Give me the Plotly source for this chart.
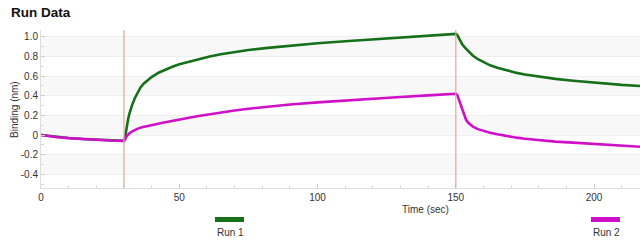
import plotly.graph_objects as go

# ---- data ----
time_run1 = [0, 3, 6, 10, 15, 20, 25, 30,
             30.3, 30.7, 31, 31.5, 32, 32.5, 33, 34, 35, 36, 37, 38.5, 40, 42.5, 45, 47.5, 50, 54, 57, 61, 65, 70, 75, 82,
             90, 100, 110, 120, 130, 140, 150,
             150.5, 151, 151.5, 152.3, 153.3, 154.5, 156.2, 158, 160, 162.4, 165, 168.5, 172, 175, 180.5, 186, 192.4,
             198, 204.7, 210, 216.6]
binding_run1 = [0.0, -0.01, -0.02, -0.03, -0.04, -0.048, -0.055, -0.06,
                -0.04, 0.04, 0.1, 0.16, 0.22, 0.27, 0.31, 0.38, 0.44, 0.485, 0.52, 0.56, 0.59, 0.635, 0.668, 0.695, 0.72, 0.752, 0.775, 0.8, 0.822, 0.846, 0.866, 0.888,
                0.91, 0.935, 0.955, 0.975, 0.993, 1.01, 1.03,
                1.02, 0.99, 0.96, 0.925, 0.89, 0.852, 0.808, 0.772, 0.74, 0.71, 0.685, 0.656, 0.633, 0.617, 0.592, 0.572, 0.553,
                0.538, 0.523, 0.511, 0.50]
time_run2 = [0, 3, 6, 10, 15, 20, 25, 30,
             30.3, 30.7, 31, 31.5, 32, 33, 34, 35, 36.5, 38, 40, 42, 44, 46, 50, 54, 57, 61, 65, 70, 75, 82,
             90, 100, 110, 120, 130, 140, 150,
             150.5, 151, 151.5, 152, 152.6, 153.2, 153.7, 154.5, 155.3, 156.2, 158, 160, 162.4, 165, 168.5, 172, 175,
             180.5, 186, 192.4, 198, 204.7, 210, 216.6]
binding_run2 = [0.0, -0.012, -0.022, -0.032, -0.042, -0.05, -0.056, -0.06,
                -0.05, -0.03, -0.012, 0.004, 0.018, 0.038, 0.053, 0.065, 0.078, 0.089, 0.101, 0.113, 0.125, 0.137, 0.158, 0.178, 0.193, 0.212, 0.23, 0.25, 0.268, 0.29,
                0.31, 0.332, 0.352, 0.37, 0.387, 0.404, 0.42,
                0.41, 0.37, 0.32, 0.28, 0.24, 0.19, 0.155, 0.125, 0.104, 0.086, 0.06, 0.04, 0.022, 0.007, -0.012, -0.027, -0.038,
                -0.055, -0.067, -0.078, -0.088, -0.099, -0.108, -0.12]
run_names = ["Run 1", "Run 2"]
run_colors = ["#16701a", "#d010c8"]
step_times = [30, 150]
x_tickvals = [0, 50, 100, 150, 200]
y_tickvals = [1.0, 0.8, 0.6, 0.4, 0.2, 0, -0.2, -0.4]
y_ticktext = ["1.0", "0.8", "0.6", "0.4", "0.2", "0", "-0.2", "-0.4"]
band_ranges = [(0.8, 1.0), (0.4, 0.6), (0.0, 0.2), (-0.4, -0.2)]

W, H = 640, 248
L, R, T, B = 41, 0, 30, 60
pw, ph = W - L - R, H - T - B


def px(xp):
    return (xp - L) / pw


def py(yp):
    return (H - B - yp) / ph


fig = go.Figure()

for t, y, name, c in [(time_run1, binding_run1, run_names[0], run_colors[0]),
                      (time_run2, binding_run2, run_names[1], run_colors[1])]:
    fig.add_trace(go.Scatter(x=t, y=y, mode="lines", name=name,
                             line=dict(color=c, width=2.6),
                             showlegend=False))

shapes = []
for lo, hi in band_ranges:
    shapes.append(dict(type="rect", xref="paper", yref="y", x0=0, x1=1, y0=lo, y1=hi,
                       fillcolor="#f8f8f8", line_width=0, layer="below"))
for st in step_times:
    shapes.append(dict(type="line", xref="x", yref="paper", x0=st, x1=st, y0=0, y1=1,
                       line=dict(color="#dea898", width=1.2)))

# legend-like entries below the chart
legend_pos = [230, 606]
annotations = []
for name, c, cx in zip(run_names, run_colors, legend_pos):
    shapes.append(dict(type="rect", xref="paper", yref="paper",
                       x0=px(cx - 15), x1=px(cx + 14), y0=py(222), y1=py(217),
                       fillcolor=c, line_width=0))
    annotations.append(dict(text=name, xref="paper", yref="paper", x=px(cx), y=py(232),
                            xanchor="center", yanchor="middle", showarrow=False,
                            font=dict(size=10, color="#333")))

annotations.append(dict(text="Time (sec)", xref="paper", yref="paper", x=px(425), y=py(209),
                        xanchor="center", yanchor="middle", showarrow=False,
                        font=dict(size=10, color="#333")))
annotations.append(dict(text="Binding (nm)", xref="paper", yref="paper", x=px(14), y=py(110),
                        xanchor="center", yanchor="middle", showarrow=False, textangle=-90,
                        font=dict(size=10, color="#333")))
annotations.append(dict(text="<b>Run Data</b>", xref="paper", yref="paper", x=px(9), y=py(12),
                        xanchor="left", yanchor="middle", showarrow=False,
                        font=dict(size=13.5, color="#111")))

fig.update_layout(
    width=W, height=H,
    margin=dict(l=L, r=R, t=T, b=B, pad=0),
    paper_bgcolor="white", plot_bgcolor="white",
    font=dict(family="Liberation Sans, Arial, sans-serif", size=10, color="#333"),
    shapes=shapes, annotations=annotations,
    showlegend=False,
)
fig.update_xaxes(range=[0, 216.6], tickvals=x_tickvals, showgrid=False, zeroline=False,
                 showline=True, linecolor="#dddddd", ticks="inside", ticklen=4, tickcolor="#cccccc",
                 minor=dict(dtick=10, ticks="inside", ticklen=3, tickcolor="#d8d8d8"),
                 tickfont=dict(size=10, color="#333"))
fig.update_yaxes(range=[-0.54, 1.07], tickvals=y_tickvals, ticktext=y_ticktext,
                 showgrid=True, gridcolor="#efefef", gridwidth=1, zeroline=False,
                 showline=True, linecolor="#dddddd", ticks="inside", ticklen=4, tickcolor="#cccccc",
                 minor=dict(tickvals=[0.9, 0.7, 0.5, 0.3, 0.1, -0.1, -0.3, -0.5], ticks="inside",
                            ticklen=3, tickcolor="#d8d8d8"),
                 tickfont=dict(size=10, color="#333"))

fig.write_html("out.html")
